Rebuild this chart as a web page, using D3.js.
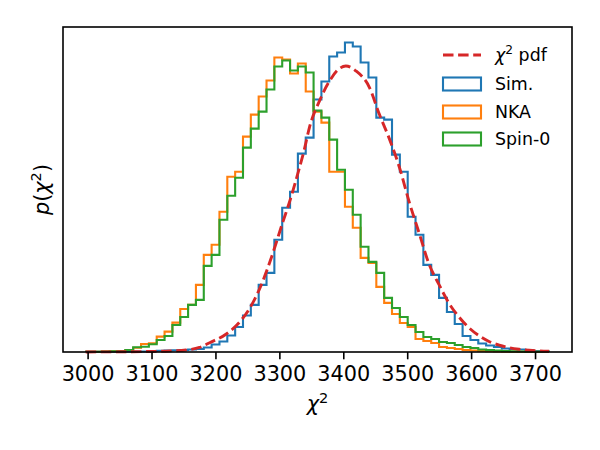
<!DOCTYPE html>
<html>
<head>
<meta charset="utf-8">
<script src="https://cdn.jsdelivr.net/npm/d3@7"></script>
<style>
  body { margin: 0; background: #fff; }
  svg { display: block; }
  text { font-family: "DejaVu Sans", sans-serif; fill: #000; }
</style>
</head>
<body>
<svg id="chart" width="600" height="450"></svg>
<script>
// *************** DATA ***************
// common histogram bins (chi^2 values)
const binStart = 2997.7,
      binWidth = 12.27;

// bin heights (density, arbitrary units)
const simCounts = [0.2, 0.2, 0.2, 0.2, 0.3, 0.3, 0.4, 0.5, 1, 1.3,
                   1.5, 1.8, 2, 2.5, 3, 4.5, 7.5, 10.5, 16.5, 25,
                   36.5, 47, 67, 79, 112, 144, 160, 198, 214, 252,
                   270, 295, 299, 309, 305, 289, 274, 234, 232, 197,
                   180, 135, 117, 87, 77, 54, 40, 28, 16, 12,
                   8.5, 6.5, 5, 3.5, 3, 2.5, 1.7, 1, 0.5];

const nkaCounts = [0.2, 0.3, 0.5, 0.7, 1, 2, 4.3, 8, 8.7, 15.3,
                   20.3, 29.3, 43, 47, 67, 97, 107, 140, 175, 180,
                   215, 237, 255, 271, 294, 292, 278, 288, 260, 240,
                   229, 180, 180, 145, 124, 94, 89, 65, 49, 38,
                   29, 25, 13, 11, 9, 5, 4, 3, 2, 1.5,
                   1, 0.8, 0.5, 0.4, 0.3, 0.2, 0.1, 0.1, 0];

const spinCounts = [0.3, 0.3, 0.5, 0.8, 1, 2, 4.7, 5.3, 7.7, 12,
                    16, 27, 35, 47, 52, 86, 97, 132, 156, 174,
                    204, 223, 240, 262, 285, 291, 281, 285, 279, 241,
                    234, 212, 182, 162, 137, 105, 90, 79, 54, 44,
                    35, 27, 20, 15, 13, 10, 9, 7, 5, 4,
                    2.5, 2, 1.5, 1, 0.7, 0.5, 0.3, 0.2, 0.1];

// chi^2 pdf
const pdfX = [2997, 3050, 3097, 3128, 3154, 3175, 3191, 3217, 3238, 3253,
              3269, 3279, 3290, 3305, 3316, 3331, 3339, 3347, 3363, 3378,
              3394, 3404, 3420, 3441, 3456, 3472, 3488, 3503, 3519, 3534,
              3550, 3566, 3581, 3597, 3613, 3628, 3644, 3659, 3675, 3691,
              3706, 3722];
const pdfY = [0.05, 0.2, 0.5, 1, 2, 4.5, 9.3, 18, 30, 43,
              63, 79, 99, 129, 150, 183, 202, 224, 251, 270,
              283, 285.5, 280.5, 264, 238, 213, 184, 150, 118, 88,
              67, 48, 35, 24, 16, 10.5, 6.8, 4.4, 2.8, 1.8,
              1.2, 0.8];

const xTicks = [3000, 3100, 3200, 3300, 3400, 3500, 3600, 3700];

const seriesNames = ["Sim.", "NKA", "Spin-0"];
const seriesColors = ["#1f77b4", "#ff7f0e", "#2ca02c"];
const pdfColor = "#d62728";

// *************** LAYOUT ***************
const svg = d3.select("#chart");
const margin = { left: 63, right: 28, top: 27, bottom: 98 };
const width = 600, height = 450;
const plotW = width - margin.left - margin.right,
      plotH = height - margin.top - margin.bottom;

const nBins = simCounts.length;
const edges = d3.range(nBins + 1).map(i => binStart + i * binWidth);

const xMin = edges[0], xMax = edges[nBins];
const pad = 0.05 * (xMax - xMin);
const x = d3.scaleLinear()
            .domain([xMin - pad, xMax + pad])
            .range([margin.left, margin.left + plotW]);

const yMax = d3.max([...simCounts, ...nkaCounts, ...spinCounts, ...pdfY]) * 1.05;
const y = d3.scaleLinear()
            .domain([0, yMax])
            .range([margin.top + plotH, margin.top]);

// *************** HISTOGRAMS ***************
const stepLine = d3.line()
                   .x(d => x(d[0]))
                   .y(d => y(d[1]))
                   .curve(d3.curveStepAfter);

function stepPoints(counts) {
  const pts = [[edges[0], 0]];
  counts.forEach((c, i) => pts.push([edges[i], c]));
  pts.push([edges[nBins], counts[nBins - 1]]);
  pts.push([edges[nBins], 0]);
  return pts;
}

const plot = svg.append("g");

[simCounts, nkaCounts, spinCounts].forEach((counts, i) => {
  plot.append("path")
      .attr("d", stepLine(stepPoints(counts)))
      .attr("fill", "none")
      .attr("stroke", seriesColors[i])
      .attr("stroke-width", 2.1)
      .attr("stroke-linejoin", "miter");
});

const pdfLine = d3.line()
                  .x((d, i) => x(pdfX[i]))
                  .y(d => y(d))
                  .curve(d3.curveMonotoneX);

plot.append("path")
    .attr("d", pdfLine(pdfY))
    .attr("fill", "none")
    .attr("stroke", pdfColor)
    .attr("stroke-width", 2.9)
    .attr("stroke-dasharray", "10.5,4.6");

// *************** AXES ***************
const xAxis = svg.append("g")
                 .attr("transform", `translate(0,${margin.top + plotH})`)
                 .call(d3.axisBottom(x)
                         .tickValues(xTicks)
                         .tickFormat(d3.format("d"))
                         .tickSize(7.3)
                         .tickPadding(7));

xAxis.select(".domain").remove();
xAxis.selectAll(".tick line").attr("stroke", "#000").attr("stroke-width", 1.6);
xAxis.selectAll(".tick text")
     .attr("font-size", "20.8px")
     .attr("font-family", "DejaVu Sans")
     .attr("fill", "#000");

svg.append("rect")
   .attr("x", margin.left)
   .attr("y", margin.top)
   .attr("width", plotW)
   .attr("height", plotH)
   .attr("fill", "none")
   .attr("stroke", "#000")
   .attr("stroke-width", 1.6);

// x label: chi^2
const xLabel = svg.append("text")
                  .attr("x", margin.left + plotW / 2)
                  .attr("y", 411)
                  .attr("text-anchor", "middle")
                  .attr("font-size", "20.8px");
xLabel.append("tspan").attr("font-style", "italic").text("χ");
xLabel.append("tspan").attr("font-size", "14.6px").attr("dy", -8).text("2");

// y label: p(chi^2)
const yLabel = svg.append("text")
                  .attr("transform", `translate(49,${margin.top + plotH / 2}) rotate(-90)`)
                  .attr("text-anchor", "middle")
                  .attr("font-size", "20.8px");
yLabel.append("tspan").attr("font-style", "italic").text("p");
yLabel.append("tspan").text("(");
yLabel.append("tspan").attr("font-style", "italic").text("χ");
yLabel.append("tspan").attr("font-size", "14.6px").attr("dy", -8).text("2");
yLabel.append("tspan").attr("dy", 8).text(")");

// *************** LEGEND ***************
const legend = svg.append("g").attr("transform", "translate(443,0)");
const rowY = [55, 84, 112, 139];
const handleW = 38, handleH = 13, textX = 52;

legend.append("line")
      .attr("x1", 0).attr("x2", handleW)
      .attr("y1", rowY[0]).attr("y2", rowY[0])
      .attr("stroke", pdfColor)
      .attr("stroke-width", 2.9)
      .attr("stroke-dasharray", "10.5,4.6");

const pdfLabel = legend.append("text")
                       .attr("x", textX)
                       .attr("y", rowY[0] + 6)
                       .attr("font-size", "17.4px");
pdfLabel.append("tspan").attr("font-style", "italic").text("χ");
pdfLabel.append("tspan").attr("font-size", "12.2px").attr("dy", -7).text("2");
pdfLabel.append("tspan").attr("dy", 7).text(" pdf");

seriesNames.forEach((name, i) => {
  const cy = rowY[i + 1];
  legend.append("rect")
        .attr("x", 0)
        .attr("y", cy - handleH / 2)
        .attr("width", handleW)
        .attr("height", handleH)
        .attr("fill", "none")
        .attr("stroke", seriesColors[i])
        .attr("stroke-width", 2.1);
  legend.append("text")
        .attr("x", textX)
        .attr("y", cy + 6)
        .attr("font-size", "17.4px")
        .text(name);
});
</script>
</body>
</html>
